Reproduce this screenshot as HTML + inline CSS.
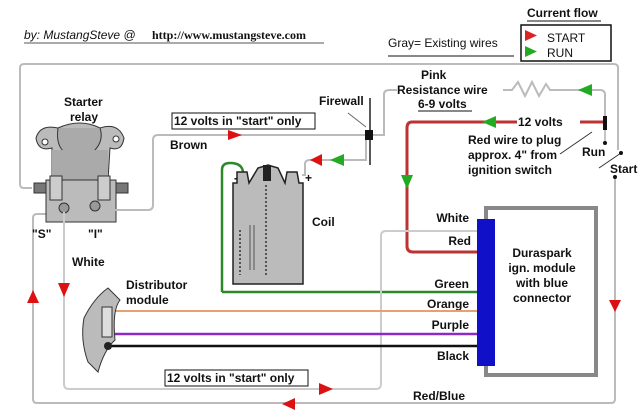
<!DOCTYPE html>
<html><head><meta charset="utf-8"><style>
html,body{margin:0;padding:0;background:#fff;}
svg{display:block;}
text{font-family:"Liberation Sans",Arial,sans-serif;font-weight:bold;font-size:12px;fill:#111;}
</style></head><body>
<svg width="640" height="416" viewBox="0 0 640 416" xmlns="http://www.w3.org/2000/svg">
<rect width="640" height="416" fill="#fff"/>
<text x="24" y="39" font-size="11" font-style="italic" fill="#333" style="font-weight:normal">by: MustangSteve @</text>
<text x="152" y="39" font-size="11" style="font-family:'Liberation Serif',serif">http://www.mustangsteve.com</text>
<line x1="24" y1="43" x2="324" y2="43" stroke="#555" stroke-width="1"/>
<text x="527" y="17" font-size="11">Current flow</text>
<line x1="527" y1="21" x2="601" y2="21" stroke="#111"/>
<rect x="521" y="25" width="90" height="36" fill="#fff" stroke="#111" stroke-width="1.5"/>
<polygon points="525,30 537,35.5 525,41" fill="#d22"/>
<text x="547" y="42" font-size="12" style="font-weight:normal">START</text>
<polygon points="525,46 537,51.5 525,57" fill="#2a2"/>
<text x="547" y="57" font-size="12" style="font-weight:normal">RUN</text>
<text x="388" y="47" font-size="12" style="font-weight:normal">Gray= Existing wires</text>
<line x1="388" y1="56" x2="514" y2="56" stroke="#111"/>

<path d="M32,188 H24 Q20,188 20,184 V68 Q20,64 24,64 H614 Q618,64 618,68 V150" fill="none" stroke="#bbb" stroke-width="2"/>
<path d="M615,177 V399 Q615,403 611,403 H37 Q33,403 33,399 V218 Q33,214 37,214 H48" fill="none" stroke="#bbb" stroke-width="2"/>
<polygon points="33,290 27,303 39,303" fill="#d11"/>
<polygon points="282,404 295,398 295,410" fill="#d11"/>
<polygon points="609,300 621,300 615,312" fill="#d11"/>
<text x="413" y="400">Red/Blue</text>

<text x="64" y="106">Starter</text>
<text x="70" y="121">relay</text>
<path d="M36,138 Q40,124 58,128 Q80,118 100,128 Q118,122 124,138 Q122,152 110,148 L108,180 L52,180 L52,148 Q38,152 36,138Z" fill="#bbb" stroke="#333"/>
<path d="M58,128 Q55,150 70,155 Q82,160 95,150 Q104,140 100,128" fill="#aaa" stroke="#333"/>
<circle cx="45" cy="142" r="3" fill="#fff" stroke="#333"/>
<circle cx="116" cy="139" r="3" fill="#fff" stroke="#333"/>
<rect x="52" y="150" width="56" height="40" fill="#aaa" stroke="none"/>
<rect x="46" y="180" width="70" height="42" fill="#bbb" stroke="#333"/>
<rect x="50" y="176" width="12" height="24" fill="#ccc" stroke="#333"/>
<rect x="98" y="176" width="12" height="24" fill="#ccc" stroke="#333"/>
<rect x="34" y="183" width="12" height="10" fill="#777" stroke="#333"/>
<rect x="116" y="183" width="12" height="10" fill="#777" stroke="#333"/>
<circle cx="64" cy="208" r="5" fill="#999" stroke="#333"/>
<circle cx="95" cy="206" r="5" fill="#999" stroke="#333"/>
<text x="32" y="238" font-size="12">"S"</text>
<text x="88" y="238" font-size="12">"I"</text>

<path d="M110,210 H148 Q153,210 153,205 V140 Q153,135 158,135 H368" fill="none" stroke="#bbb" stroke-width="2"/>
<polygon points="228,130 242,135 228,140" fill="#d11"/>
<rect x="172" y="113" width="143" height="16" fill="#fff" stroke="#111"/>
<text x="174" y="125">12 volts in "start" only</text>
<text x="170" y="149">Brown</text>

<line x1="370" y1="98" x2="370" y2="165" stroke="#222" stroke-width="1.5"/>
<rect x="365" y="130" width="8" height="10" fill="#111"/>
<text x="319" y="105">Firewall</text>
<line x1="348" y1="113" x2="366" y2="127" stroke="#666"/>
<path d="M373,135 H384 V94 Q384,90 390,90 H397" fill="none" stroke="#bbb" stroke-width="2"/>
<path d="M302,175 H305 V164 Q305,160 310,160 H366 V140" fill="none" stroke="#bbb" stroke-width="2"/>
<polygon points="310,160 322,154 322,166" fill="#d11"/>
<polygon points="330,160 344,154 344,166" fill="#2a2"/>

<path d="M222,292 V170 Q222,163 230,163 Q242,163 243,172" fill="none" stroke="#2a8a2a" stroke-width="2.5"/>
<path d="M222,292 H478" fill="none" stroke="#2a8a2a" stroke-width="2.5"/>
<path d="M237,183 L237,172 L247,172 L249,183 L258,168 L268,165 L278,168 L285,183 L287,172 L297,172 L299,183 L303,183 L303,284 L233,284 L233,183Z" fill="#bbb" stroke="#222" stroke-width="1.5"/>
<rect x="263" y="165" width="8" height="16" fill="#222"/>
<line x1="266" y1="185" x2="266" y2="275" stroke="#555" stroke-width="2" stroke-dasharray="2,2"/>
<line x1="240" y1="230" x2="240" y2="275" stroke="#555" stroke-width="2" stroke-dasharray="2,2"/>
<line x1="250" y1="225" x2="250" y2="270" stroke="#555"/>
<line x1="254" y1="225" x2="254" y2="270" stroke="#555"/>
<text x="234" y="182" font-size="14">-</text>
<text x="305" y="182" font-size="14">+</text>
<text x="312" y="226">Coil</text>

<text x="421" y="79">Pink</text>
<text x="397" y="94">Resistance wire</text>
<text x="418" y="108">6-9 volts</text>
<line x1="418" y1="111" x2="472" y2="111" stroke="#111"/>
<path d="M503,90 H512 L518,82 L525,96 L532,82 L539,96 L546,84 L550,90 H600 Q605,90 605,95 V118" fill="none" stroke="#bbb" stroke-width="2"/>
<polygon points="578,90 592,84 592,96" fill="#2a2"/>
<rect x="603" y="116" width="4" height="14" fill="#111"/>

<path d="M603,122 H580 M517,122 H412 Q407,122 407,128 V246 Q407,252 413,252 H478" fill="none" stroke="#b33" stroke-width="3"/>
<polygon points="482,122 496,116 496,128" fill="#2a2"/>
<polygon points="401,175 413,175 407,189" fill="#2a2"/>
<text x="518" y="126">12 volts</text>
<text x="468" y="144">Red wire to plug</text>
<text x="468" y="159">approx. 4" from</text>
<text x="468" y="174">ignition switch</text>
<line x1="560" y1="154" x2="592" y2="132" stroke="#333"/>
<text x="582" y="156">Run</text>
<line x1="605" y1="130" x2="605" y2="143" stroke="#888"/>
<circle cx="605" cy="143" r="2" fill="#111"/>
<line x1="599" y1="168" x2="621" y2="153" stroke="#333"/>
<circle cx="621" cy="153" r="2" fill="#111"/>
<text x="610" y="173">Start</text>
<circle cx="615" cy="177" r="2" fill="#111"/>

<path d="M64,212 V384 Q64,389 69,389 H376 Q381,389 381,384 V236 Q381,231 386,231 H478" fill="none" stroke="#ccc" stroke-width="2"/>
<polygon points="58,283 70,283 64,297" fill="#d11"/>
<polygon points="319,383 333,389 319,395" fill="#d11"/>
<rect x="165" y="370" width="143" height="16" fill="#fff" stroke="#111"/>
<text x="167" y="382">12 volts in "start" only</text>
<text x="72" y="266">White</text>

<rect x="486" y="208" width="110" height="167" fill="#fff" stroke="#888" stroke-width="4"/>
<rect x="477" y="219" width="18" height="147" fill="#1010c8"/>
<g text-anchor="middle" font-size="12">
<text x="542" y="257">Duraspark</text>
<text x="542" y="272">ign. module</text>
<text x="542" y="287">with blue</text>
<text x="542" y="302">connector</text>
</g>
<g text-anchor="end">
<text x="469" y="222">White</text>
<text x="471" y="245">Red</text>
<text x="469" y="288">Green</text>
<text x="469" y="308">Orange</text>
<text x="469" y="329">Purple</text>
<text x="469" y="360">Black</text>
</g>

<line x1="115" y1="311" x2="477" y2="311" stroke="#e8a070" stroke-width="2"/>
<line x1="115" y1="334" x2="477" y2="334" stroke="#8a2bc8" stroke-width="2.5"/>
<line x1="108" y1="346" x2="477" y2="346" stroke="#111" stroke-width="2.5"/>
<path d="M108,288 L120,300 Q112,310 115,340 Q104,350 98,372 L88,362 Q80,340 84,318 Q94,298 108,288Z" fill="#bbb" stroke="#333"/>
<rect x="102" y="307" width="10" height="30" fill="#ddd" stroke="#333"/>
<circle cx="108" cy="346" r="4" fill="#222"/>
<text x="126" y="289">Distributor</text>
<text x="126" y="304">module</text>
</svg>
</body></html>
